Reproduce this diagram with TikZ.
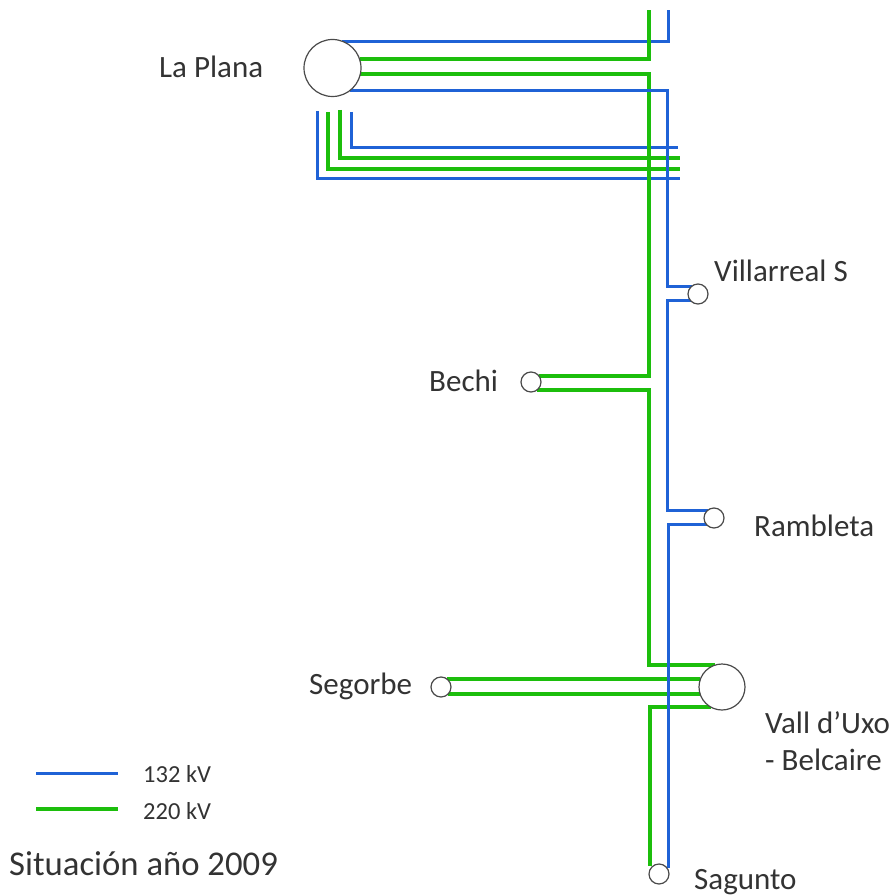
\documentclass[tikz,border=0pt]{standalone}
\usepackage{fontspec}
\setmainfont{Carlito}
\definecolor{lineblue}{HTML}{1F62D6}
\definecolor{linegreen}{HTML}{1CBE0C}
\definecolor{ringgray}{HTML}{4A4A4A}
\definecolor{labeltext}{HTML}{333333}
\pgfdeclarelayer{lowerlines}
\pgfdeclarelayer{lines}
\pgfdeclarelayer{upperlines}
\pgfsetlayers{lowerlines,lines,upperlines,main}
\tikzset{
  stationbig/.style={circle,draw=ringgray,fill=white,line width=1.2pt,inner sep=0pt,outer sep=0pt,minimum size=#1},
  stationbig/.default=46pt,
  blueline/.style={draw=lineblue,line width=3pt,line join=miter},
  greenline/.style={draw=linegreen,line width=4.4pt,line join=miter},
  lab/.style={text=labeltext,font=\fontsize{31}{36}\selectfont,inner sep=0pt,anchor=base west,align=left},
  leglab/.style={text=labeltext,font=\fontsize{24.5}{29}\selectfont,inner sep=0pt,anchor=base west}
}
\begin{document}
\begin{tikzpicture}[x=1pt,y=-1pt]
\useasboundingbox (0,0) rectangle (892,896);
% stations
\node[stationbig=57pt] (plana) at (332.5,68) {};
\node[stationbig=20pt] (villa) at (698,294) {};
\node[stationbig=20pt] (ramb) at (714,518) {};
\node[stationbig=20pt] (bechi) at (531,382) {};
\node[stationbig=20pt] (sego) at (441,687) {};
\node[stationbig=46pt] (vall) at (722,687) {};
\node[stationbig=20pt] (sagu) at (659,874) {};
% free ends
\coordinate (bt) at (668,10);
\coordinate (gt) at (649,10);
\coordinate (gv) at (649,300);
\coordinate (bv) at (667,200);
\coordinate (gb) at (650,866);
\coordinate (bb) at (668,868);
\coordinate (a1) at (351,112); \coordinate (a2) at (678,148);
\coordinate (b1) at (340,110); \coordinate (b2) at (680,158);
\coordinate (c1) at (328,112); \coordinate (c2) at (680,169);
\coordinate (d1) at (317,111); \coordinate (d2) at (680,179);
\coordinate (lb1) at (36,773); \coordinate (lb2) at (118,773);
\coordinate (lg1) at (36,809); \coordinate (lg2) at (118,809);
\begin{pgfonlayer}{lowerlines}
  \draw[blueline] (plana.71.3) -| (bt);
  \draw[blueline] (a1) |- (a2);
  \draw[blueline] (d1) |- (d2);
\end{pgfonlayer}
\begin{pgfonlayer}{lines}
  \draw[greenline] (plana.18.4) -| (gt);
  \draw[greenline] (plana.-12.2) -| (gv) |- (bechi.37);
  \draw[greenline] (bechi.-53) -| (gv |- vall.107) -- (vall.107);
  \draw[greenline] (b1) |- (b2);
  \draw[greenline] (c1) |- (c2);
  \draw[greenline] (sego.53) -- (sego.53 -| vall.160);
  \draw[greenline] (sego.-44) -- (sego.-44 -| vall.198);
  \draw[greenline] (vall.240) -| (gb);
\end{pgfonlayer}
\begin{pgfonlayer}{upperlines}
  \draw[blueline] (plana.-53.8) -| (bv) |- (villa.127);
  \draw[blueline] (villa.224) -| (bv |- ramb.127) -- (ramb.127);
  \draw[blueline] (ramb.224) -| (bb);
\end{pgfonlayer}
% legend
\draw[blueline] (lb1) -- (lb2);
\draw[greenline] (lg1) -- (lg2);
\node[leglab] (l132) at (143,782) {132 kV};
\node[leglab] (l220) at (143,819) {220 kV};
% labels
\node[lab] (tplana) at (159,78) {La Plana};
\node[lab] (tvilla) at (714,281) {Villarreal S};
\node[lab] (tbechi) at (429,391) {Bechi};
\node[lab] (tramb) at (754,536) {Rambleta};
\node[lab] (tsego) at (309,694) {Segorbe};
\node[lab] (tvall) at (765,733) {Vall d’Uxo};
\node[lab] (tbelc) at (765,770) {- Belcaire};
\node[lab] (tsagu) at (694,889) {Sagunto};
\node[lab,font=\fontsize{34.7}{40}\selectfont] (tsit) at (9,875) {Situación año 2009};
\end{tikzpicture}
\end{document}
